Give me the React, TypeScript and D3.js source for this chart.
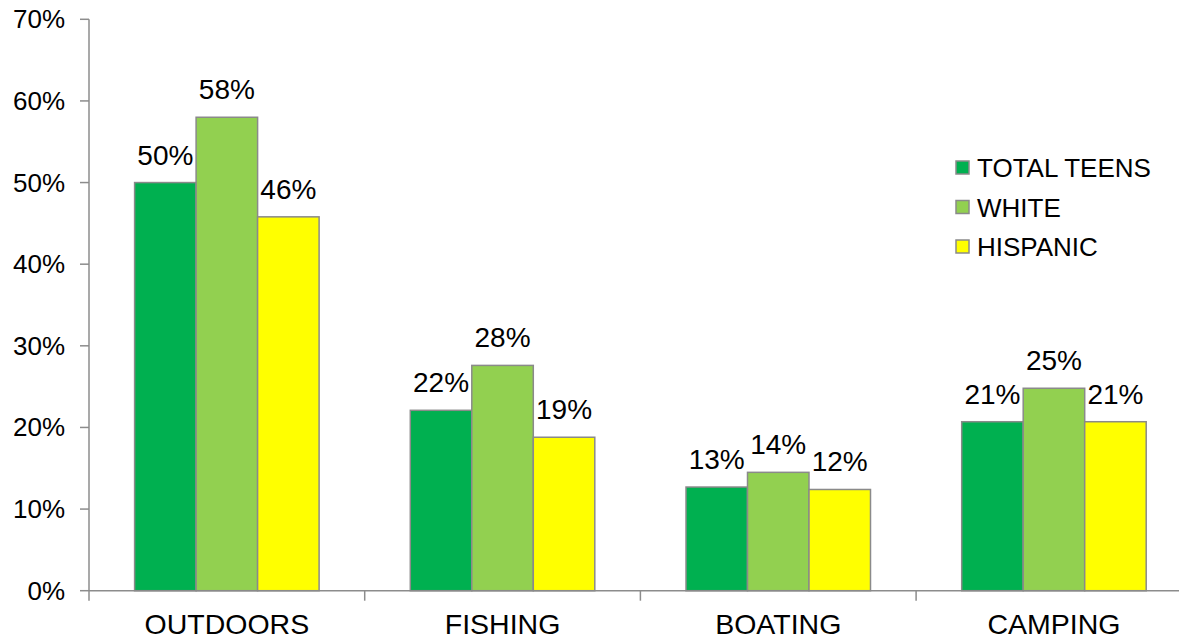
import React from "react";
import * as d3 from "d3";

const categories = ["OUTDOORS", "FISHING", "BOATING", "CAMPING"];
const seriesNames = ["TOTAL TEENS", "WHITE", "HISPANIC"];
const totalTeens = [50.0, 22.1, 12.7, 20.7];
const white = [58.0, 27.6, 14.5, 24.8];
const hispanic = [45.8, 18.8, 12.4, 20.7];
const labelsTotal = ["50%", "22%", "13%", "21%"];
const labelsWhite = ["58%", "28%", "14%", "25%"];
const labelsHispanic = ["46%", "19%", "12%", "21%"];
const yTicks = [0, 10, 20, 30, 40, 50, 60, 70];
const colors = ["#00B050", "#92D050", "#FFFF00"];

export default function App() {
  const W = 1179, H = 639;
  const x0 = 89, bandW = 275.7;
  const x = d3.scaleBand<string>().domain(categories).range([x0, x0 + bandW * 4]).paddingInner(0).paddingOuter(0);
  const inner = d3.scaleBand<string>().domain(seriesNames).range([0, bandW]).paddingOuter(0.7415).paddingInner(0);
  const y = d3.scaleLinear().domain([0, 70]).range([590.7, 19.3]);
  const series = [totalTeens, white, hispanic];
  const labels = [labelsTotal, labelsWhite, labelsHispanic];
  const font = "Liberation Sans, Arial, sans-serif";
  const axisColor = "#8c8c8c";
  return (
    <svg width={W} height={H} style={{ position: "absolute", left: 0, top: 0, background: "#fff" }}>
      {/* y axis */}
      <line x1={x0} x2={x0} y1={y(70)} y2={y(0)} stroke={axisColor} strokeWidth={1.5} />
      {yTicks.map((t) => (
        <g key={t}>
          <line x1={x0 - 9} x2={x0} y1={y(t)} y2={y(t)} stroke={axisColor} strokeWidth={1.5} />
          <text x={65} y={y(t) + 9} textAnchor="end" fontFamily={font} fontSize={26} fill="#000">{t}%</text>
        </g>
      ))}
      {/* x axis */}
      <line x1={x0} x2={W} y1={y(0)} y2={y(0)} stroke={axisColor} strokeWidth={1.5} />
      {categories.map((c, i) => (
        <line key={c} x1={x.bandwidth() * i + x0} x2={x.bandwidth() * i + x0} y1={y(0)} y2={y(0) + 10} stroke={axisColor} strokeWidth={1.5} />
      ))}
      {categories.map((c) => (
        <text key={c} x={(x(c) as number) + x.bandwidth() / 2} y={634} textAnchor="middle" fontFamily={font} fontSize={28.5} fill="#000">{c}</text>
      ))}
      {/* bars */}
      {series.map((vals, si) =>
        vals.map((v, ci) => {
          const bx = (x(categories[ci]) as number) + (inner(seriesNames[si]) as number);
          const bw = inner.bandwidth();
          return (
            <g key={`${si}-${ci}`}>
              <rect x={bx} y={y(v)} width={bw} height={y(0) - y(v)} fill={colors[si]} stroke="#8a8a8a" strokeWidth={1.5} />
              <text x={bx + bw / 2} y={y(v) - 18} textAnchor="middle" fontFamily={font} fontSize={28} fill="#000">{labels[si][ci]}</text>
            </g>
          );
        })
      )}
      {/* legend */}
      {seriesNames.map((n, i) => (
        <g key={n} transform={`translate(956, ${161 + i * 39.5})`}>
          <rect x={0} y={0} width={13} height={13} fill={colors[i]} stroke="#8a8a8a" strokeWidth={1.5} />
          <text x={21} y={16} fontFamily={font} fontSize={26} fill="#000">{n}</text>
        </g>
      ))}
    </svg>
  );
}
